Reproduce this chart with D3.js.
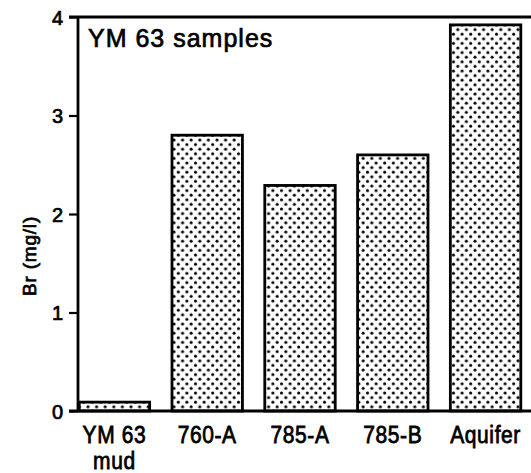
<!DOCTYPE html>
<html>
<head>
<meta charset="utf-8">
<script src="https://cdn.jsdelivr.net/npm/d3@7"></script>
<style>
  html, body { margin: 0; padding: 0; background: #fff; }
  svg { display: block; }
  text { font-family: "Liberation Sans", Arial, Helvetica, sans-serif; fill: #000; stroke: #000; stroke-width: 0.7px; }
</style>
</head>
<body>
<svg id="chart" width="531" height="473"></svg>
<script>
// Bromide concentrations in YM 63 samples (mg/l)
const categories = ["YM 63\nmud", "760-A", "785-A", "785-B", "Aquifer"];
const brValues = [0.09, 2.80, 2.29, 2.60, 3.92];
const yTicks = [0, 1, 2, 3, 4];
const chartTitle = "YM 63 samples";
const yAxisLabel = "Br (mg/l)";

const svg = d3.select("#chart");
const plot = { left: 78, right: 531, top: 17, bottom: 411 };

const x = d3.scaleBand()
  .domain(categories)
  .range([plot.left, 522])
  .paddingInner(0.215)
  .paddingOuter(0);

const y = d3.scaleLinear()
  .domain([0, 4])
  .range([plot.bottom, plot.top]);

// stipple fill for the bars
const defs = svg.append("defs");
const pat = defs.append("pattern")
  .attr("id", "stipple")
  .attr("patternUnits", "userSpaceOnUse")
  .attr("width", 8.6)
  .attr("height", 9.2);
pat.append("rect").attr("width", 8.6).attr("height", 9.2).attr("fill", "#fff");
pat.append("circle").attr("cx", 2).attr("cy", 2).attr("r", 1.5).attr("fill", "#000");
pat.append("circle").attr("cx", 6.3).attr("cy", 6.6).attr("r", 1.5).attr("fill", "#000");

// bars
svg.append("g").selectAll("rect")
  .data(brValues)
  .join("rect")
  .attr("x", (d, i) => x(categories[i]) + 1.2)
  .attr("y", d => y(d))
  .attr("width", x.bandwidth() - 2.4)
  .attr("height", d => y(0) - y(d))
  .attr("fill", "url(#stipple)")
  .attr("stroke", "#000")
  .attr("stroke-width", 2.8);

// frame: top and bottom rules
svg.append("line")
  .attr("x1", 69).attr("x2", 531)
  .attr("y1", y(4)).attr("y2", y(4))
  .attr("stroke", "#000").attr("stroke-width", 2.8);
svg.append("line")
  .attr("x1", 69).attr("x2", 531)
  .attr("y1", y(0)).attr("y2", y(0))
  .attr("stroke", "#000").attr("stroke-width", 2.8);

// y axis
const yAxis = d3.axisLeft(y)
  .tickValues(yTicks)
  .tickFormat(d3.format("d"))
  .tickSize(9)
  .tickPadding(6);
const gy = svg.append("g")
  .attr("transform", `translate(${plot.left},0)`)
  .call(yAxis);
gy.select(".domain").attr("stroke", "#000").attr("stroke-width", 2.8)
  .attr("d", `M0,${plot.top}V${plot.bottom}`);
gy.selectAll(".tick line").attr("stroke", "#000").attr("stroke-width", 2.2);
gy.selectAll(".tick text")
  .style("font-size", "20px")
  .attr("dy", "0.36em");

// category labels
const gx = svg.append("g");
categories.forEach(c => {
  const lines = c.split("\n");
  const t = gx.append("text")
    .attr("text-anchor", "middle")
    .style("font-size", "21px")
    .style("letter-spacing", "0.6px")
    .attr("transform", `translate(${x(c) + x.bandwidth() / 2},443) scale(1,1.12)`);
  lines.forEach((ln, k) => {
    t.append("tspan").attr("x", 0).attr("y", k * 23).text(ln);
  });
});

// title inside the frame
svg.append("text")
  .attr("x", 88).attr("y", 47)
  .style("font-size", "25px")
  .style("letter-spacing", "1px")
  .text(chartTitle);

// y axis label
svg.append("text")
  .attr("transform", `translate(36,${(plot.top + plot.bottom) / 2 + 42}) rotate(-90)`)
  .attr("text-anchor", "middle")
  .style("font-size", "19px")
  .style("letter-spacing", "0.8px")
  .text(yAxisLabel);
</script>
</body>
</html>
